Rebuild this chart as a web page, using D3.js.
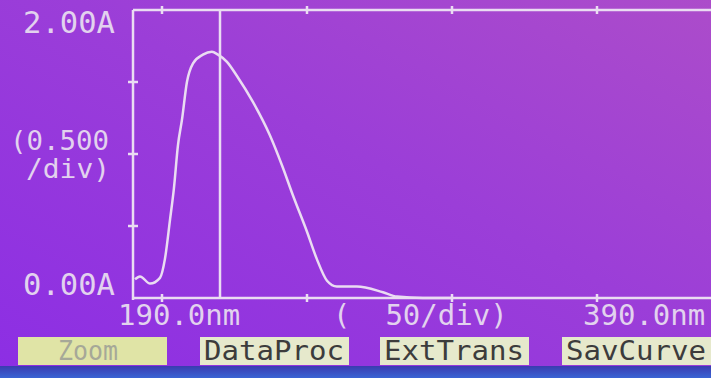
<!DOCTYPE html>
<html>
<head>
<meta charset="utf-8">
<script src="https://cdn.jsdelivr.net/npm/d3@7"></script>
<style>
  html, body { margin: 0; padding: 0; background: #8e34dc; }
  svg { display: block; }
</style>
</head>
<body>
<svg id="chart" width="711" height="378"></svg>
<script>
// spectrum (nm, absorbance)
var wavelengths = [190.7, 192.4, 195.9, 199.3, 201.0, 202.8, 204.1, 205.5, 206.9, 208.6,
                   210.7, 214.1, 217.2, 219.3, 222.4, 225.9, 231.4, 237.2, 241.4, 245.2,
                   250.0, 253.4, 256.9, 260.3, 267.2, 276.2, 281.0, 290.0, 300.0];
var absorbance  = [0.13, 0.15, 0.10, 0.14, 0.27, 0.55, 0.76, 1.06, 1.24, 1.50,
                   1.63, 1.69, 1.71, 1.69, 1.64, 1.54, 1.36, 1.13, 0.92, 0.71,
                   0.46, 0.27, 0.12, 0.08, 0.08, 0.04, 0.01, 0.0, 0.0];
var cursorNm = 220;

var xTicks = [200, 250, 300, 350];
var yTicks = [0.5, 1.0, 1.5];
var yLabels = ["2.00A", "(0.500", "/div)", "0.00A"];
var xLabels = ["190.0nm", "(  50/div)", "390.0nm"];
var buttons = ["Zoom", "DataProc", "ExtTrans", "SavCurve"];

var svg = d3.select("#chart");
var fg = "#eadcf2";

// screen background
var defs = svg.append("defs");
var grad = defs.append("linearGradient").attr("id", "bg")
    .attr("x1", "100%").attr("y1", "0%").attr("x2", "0%").attr("y2", "100%");
grad.append("stop").attr("offset", "0%").attr("stop-color", "#ac4cca");
grad.append("stop").attr("offset", "45%").attr("stop-color", "#9b3ed8");
grad.append("stop").attr("offset", "100%").attr("stop-color", "#8c2ee4");
var bar = defs.append("linearGradient").attr("id", "bar")
    .attr("x1", "0%").attr("y1", "0%").attr("x2", "0%").attr("y2", "100%");
bar.append("stop").attr("offset", "0%").attr("stop-color", "#3a3cb0");
bar.append("stop").attr("offset", "100%").attr("stop-color", "#3a64d4");

svg.append("rect").attr("width", 711).attr("height", 378).attr("fill", "url(#bg)");
svg.append("rect").attr("y", 366).attr("width", 711).attr("height", 12).attr("fill", "url(#bar)");

var x = d3.scaleLinear().domain([190, 390]).range([133, 713]);
var y = d3.scaleLinear().domain([0, 2]).range([298, 10]);

// frame
var frame = svg.append("g").attr("stroke", fg).attr("stroke-width", 2.5).attr("fill", "none");
frame.append("line").attr("x1", x(190)).attr("x2", x(190)).attr("y1", y(2)).attr("y2", y(0) + 2);
frame.append("line").attr("x1", x(190)).attr("x2", x(390)).attr("y1", y(0)).attr("y2", y(0));
frame.append("line").attr("x1", x(190)).attr("x2", x(390)).attr("y1", y(2)).attr("y2", y(2));

// ticks
frame.selectAll(".yt").data(yTicks).enter().append("line")
    .attr("x1", x(190) - 5).attr("x2", x(190) + 5)
    .attr("y1", d => y(d)).attr("y2", d => y(d));
frame.selectAll(".xb").data(xTicks).enter().append("line")
    .attr("x1", d => x(d)).attr("x2", d => x(d))
    .attr("y1", y(0) - 4).attr("y2", y(0) + 4);
frame.selectAll(".xt").data(xTicks).enter().append("line")
    .attr("x1", d => x(d)).attr("x2", d => x(d))
    .attr("y1", y(2) - 4).attr("y2", y(2) + 4);

// cursor
frame.append("line").attr("x1", x(cursorNm)).attr("x2", x(cursorNm))
    .attr("y1", y(2)).attr("y2", y(0));

// curve
var line = d3.line()
    .x((d, i) => x(wavelengths[i]))
    .y(d => y(d))
    .curve(d3.curveMonotoneX);
svg.append("path").datum(absorbance)
    .attr("d", line)
    .attr("fill", "none")
    .attr("stroke", fg)
    .attr("stroke-width", 2.5)
    .attr("stroke-linejoin", "round");

// labels
var txt = svg.append("g")
    .attr("font-family", "DejaVu Sans Mono, monospace")
    .attr("fill", "#e2d2ee");
// x, baseline, size, width
var yPos = [[23, 33, 30, 92], [10, 150, 26, 99], [26, 178, 26, 84], [23, 295, 30, 92]];
yLabels.forEach((t, i) => {
    txt.append("text").attr("x", yPos[i][0]).attr("y", yPos[i][1])
        .attr("font-size", yPos[i][2]).text(t)
        .attr("textLength", yPos[i][3])
        .attr("lengthAdjust", "spacingAndGlyphs");
});
var xPos = [118, 333, 583];
xLabels.forEach((t, i) => {
    txt.append("text").attr("x", xPos[i]).attr("y", 325)
        .attr("font-size", 29)
        .attr("xml:space", "preserve")
        .style("white-space", "pre")
        .text(t);
});

// soft keys
var bx = [18, 200, 380, 562];
var keys = svg.append("g").selectAll("g").data(buttons).enter().append("g")
    .attr("transform", (d, i) => "translate(" + bx[i] + ",337)");
keys.append("rect").attr("width", 149).attr("height", 28)
    .attr("fill", (d, i) => i === 0 ? "#e0e4a6" : "#e6e9cc");
keys.append("text")
    .attr("x", (d, i) => i === 0 ? 40 : 4)
    .attr("y", 23)
    .attr("font-family", "DejaVu Sans Mono, monospace")
    .attr("font-size", 26)
    .attr("textLength", (d, i) => i === 0 ? 60 : 140)
    .attr("lengthAdjust", "spacingAndGlyphs")
    .attr("fill", (d, i) => i === 0 ? "#a6a898" : "#3c3c3c")
    .text(d => d);
</script>
</body>
</html>
